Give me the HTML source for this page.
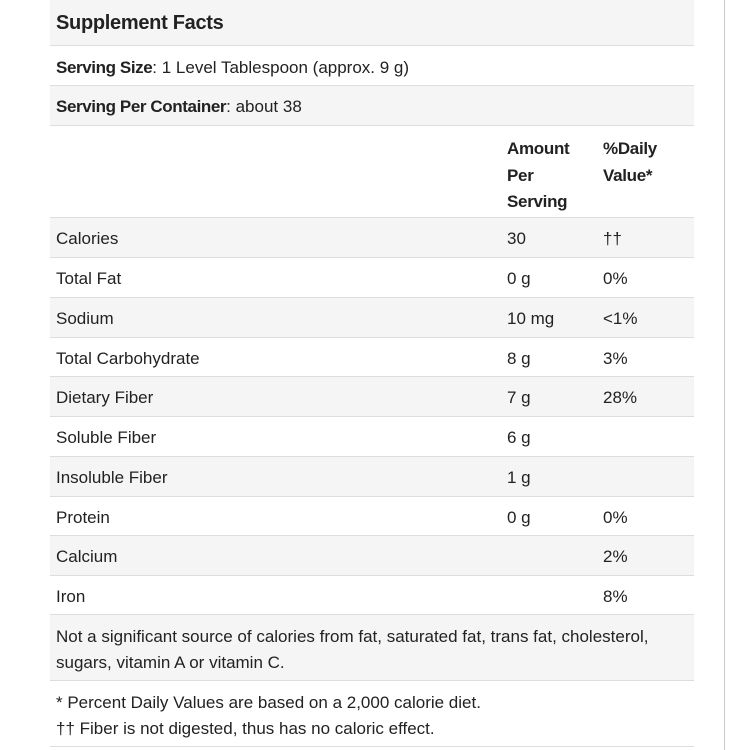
<!DOCTYPE html><html><head><style>
body{margin:0;width:750px;height:750px;background:#fff;position:relative;overflow:hidden;font-family:"Liberation Sans",sans-serif;color:#222;font-size:17px}
.r{position:absolute;left:50px;width:644px;border-bottom:1px solid #ddd;box-sizing:border-box}
.g{background:#f5f5f5}
.t{position:absolute;white-space:nowrap;margin-top:1px}
b{font-weight:bold;letter-spacing:-0.4px}
.vl{position:absolute;left:724px;top:0;width:1px;height:750px;background:#ccc}
</style></head><body>
<div class="vl"></div>
<div class="r g" style="top:0;height:46px"></div>
<div class="r" style="top:46px;height:40px"></div>
<div class="r g" style="top:86px;height:40px"></div>
<div class="r" style="top:126px;height:92px"></div>
<div class="r g" style="top:218px;height:40px"></div>
<div class="r" style="top:258px;height:40px"></div>
<div class="r g" style="top:298px;height:40px"></div>
<div class="r" style="top:338px;height:39px"></div>
<div class="r g" style="top:377px;height:40px"></div>
<div class="r" style="top:417px;height:40px"></div>
<div class="r g" style="top:457px;height:40px"></div>
<div class="r" style="top:497px;height:39px"></div>
<div class="r g" style="top:536px;height:40px"></div>
<div class="r" style="top:576px;height:39px"></div>
<div class="r g" style="top:615px;height:66px"></div>
<div class="r" style="top:681px;height:66px"></div>
<div class="t" style="left:56px;top:11px;font-size:20px;font-weight:bold;letter-spacing:-0.3px">Supplement Facts</div>
<div class="t" style="left:56px;top:57px"><b>Serving Size</b>: 1 Level Tablespoon (approx. 9 g)</div>
<div class="t" style="left:56px;top:96px"><b>Serving Per Container</b>: about 38</div>
<div class="t" style="left:507px;top:135px;line-height:26.5px;font-weight:bold;letter-spacing:-0.3px">Amount<br>Per<br>Serving</div>
<div class="t" style="left:603px;top:135px;line-height:26.5px;font-weight:bold;letter-spacing:-0.3px">%Daily<br>Value*</div>
<div class="t" style="left:56px;top:228px">Calories</div><div class="t" style="left:507px;top:228px">30</div><div class="t" style="left:603px;top:228px">††</div>
<div class="t" style="left:56px;top:268px">Total Fat</div><div class="t" style="left:507px;top:268px">0 g</div><div class="t" style="left:603px;top:268px">0%</div>
<div class="t" style="left:56px;top:308px">Sodium</div><div class="t" style="left:507px;top:308px">10 mg</div><div class="t" style="left:603px;top:308px">&lt;1%</div>
<div class="t" style="left:56px;top:348px">Total Carbohydrate</div><div class="t" style="left:507px;top:348px">8 g</div><div class="t" style="left:603px;top:348px">3%</div>
<div class="t" style="left:56px;top:387px">Dietary Fiber</div><div class="t" style="left:507px;top:387px">7 g</div><div class="t" style="left:603px;top:387px">28%</div>
<div class="t" style="left:56px;top:427px">Soluble Fiber</div><div class="t" style="left:507px;top:427px">6 g</div>
<div class="t" style="left:56px;top:467px">Insoluble Fiber</div><div class="t" style="left:507px;top:467px">1 g</div>
<div class="t" style="left:56px;top:507px">Protein</div><div class="t" style="left:507px;top:507px">0 g</div><div class="t" style="left:603px;top:507px">0%</div>
<div class="t" style="left:56px;top:546px">Calcium</div><div class="t" style="left:603px;top:546px">2%</div>
<div class="t" style="left:56px;top:586px">Iron</div><div class="t" style="left:603px;top:586px">8%</div>
<div class="t" style="left:56px;top:623px;line-height:26px">Not a significant source of calories from fat, saturated fat, trans fat, cholesterol,<br>sugars, vitamin A or vitamin C.</div>
<div class="t" style="left:56px;top:689px;line-height:26px">* Percent Daily Values are based on a 2,000 calorie diet.<br>†† Fiber is not digested, thus has no caloric effect.</div>
</body></html>
